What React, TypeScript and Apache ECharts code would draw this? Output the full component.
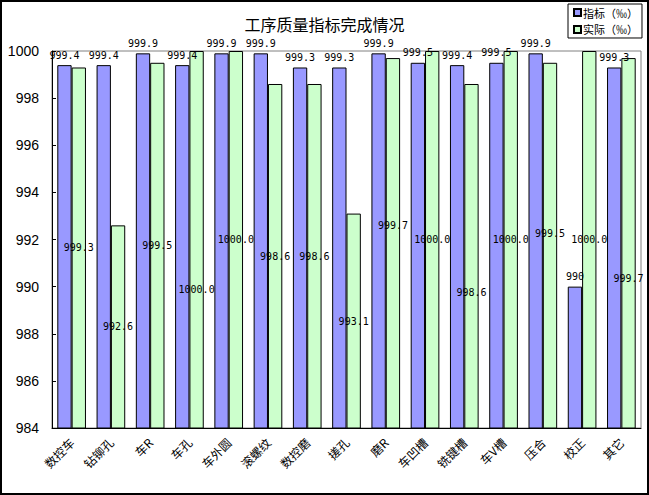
import React, { useEffect, useRef } from "react";
import * as echarts from "echarts";

const categories = ["数控车", "钻铆孔", "车R", "车孔", "车外圆", "滚螺纹", "数控磨", "搓孔", "磨R", "车凹槽", "铣键槽", "车V槽", "压合", "校正", "其它"];
const planValues = [999.4, 999.4, 999.9, 999.4, 999.9, 999.9, 999.3, 999.3, 999.9, 999.5, 999.4, 999.5, 999.9, 990, 999.3];
const actualValues = [999.3, 992.6, 999.5, 1000.0, 1000.0, 998.6, 998.6, 993.1, 999.7, 1000.0, 998.6, 1000.0, 999.5, 1000.0, 999.7];
const seriesNames = ["指标（‰）", "实际（‰）"];
const titleText = "工序质量指标完成情况";
// vertical shifts (px) of the 实际 labels that were moved by hand in the original
const actualLabelShift = [0, 0, 0, 50, 0, 0, 0, 0, -18, 0, 36, 0, -12, 0, 35];

export default function App() {
  const ref = useRef<HTMLDivElement>(null);
  useEffect(() => {
    document.body.style.margin = "0";
    const chart = echarts.init(ref.current!, null, { renderer: "svg" });
    const labelFont = "'DejaVu Sans Mono', monospace";
    chart.setOption({
      animation: false,
      backgroundColor: "#fff",
      title: {
        text: titleText,
        left: "center",
        top: 15,
        padding: 0,
        textStyle: { fontSize: 16, fontWeight: "normal", color: "#000", fontFamily: "'Noto Sans CJK SC'", lineHeight: 18 },
      },
      legend: {
        data: seriesNames,
        orient: "vertical",
        left: 568,
        top: 4,
        padding: [3, 4, 3, 5],
        itemWidth: 7,
        itemHeight: 7,
        itemGap: 6,
        icon: "rect",
        borderColor: "#000",
        borderWidth: 1,
        backgroundColor: "#fff",
        textStyle: { fontSize: 11, color: "#000", fontFamily: "'Noto Sans CJK SC'", padding: [0, 0, 0, -3] },
      },
      graphic: [
        { type: "rect", shape: { x: 1, y: 1, width: 647, height: 493 }, style: { fill: "none", stroke: "#000", lineWidth: 2 }, silent: true },
      ],
      grid: { left: 52, right: 8, top: 51, bottom: 67, show: true, borderColor: "#808080", borderWidth: 1 },
      xAxis: {
        type: "category",
        data: categories,
        axisLine: { lineStyle: { color: "#000" } },
        axisTick: { inside: true, length: 4, lineStyle: { color: "#000" } },
        axisLabel: { rotate: 45, interval: 0, margin: 12, fontSize: 12, color: "#000", fontFamily: "'Noto Sans CJK SC'" },
      },
      yAxis: {
        type: "value",
        min: 984,
        max: 1000,
        interval: 2,
        axisLine: { show: true, lineStyle: { color: "#000" } },
        axisTick: { show: true, inside: true, length: 4, lineStyle: { color: "#000" } },
        splitLine: { show: false },
        axisLabel: {
          margin: 13,
          fontSize: 14,
          color: "#000",
          fontFamily: "'Liberation Sans'",
          formatter: (v: number) => String(v),
        },
      },
      series: [
        {
          name: seriesNames[0],
          type: "bar",
          data: planValues,
          barGap: "0%",
          barCategoryGap: "27%",
          itemStyle: { color: "#9999FF", borderColor: "#000", borderWidth: 1 },
          label: {
            show: true,
            position: "top",
            distance: 5,
            fontSize: 10,
            color: "#000",
            fontFamily: labelFont,
            formatter: (p: any) => String(p.value),
          },
        },
        {
          name: seriesNames[1],
          type: "bar",
          data: actualValues.map((v, i) => ({
            value: v,
            label: { offset: [0, actualLabelShift[i]] },
          })),
          itemStyle: { color: "#CCFFCC", borderColor: "#000", borderWidth: 1 },
          label: {
            show: true,
            position: "inside",
            fontSize: 10,
            color: "#000",
            fontFamily: labelFont,
            formatter: (p: any) => Number(p.value).toFixed(1),
          },
        },
      ],
    });
    return () => chart.dispose();
  }, []);
  return <div ref={ref} style={{ width: 649, height: 495 }} />;
}
